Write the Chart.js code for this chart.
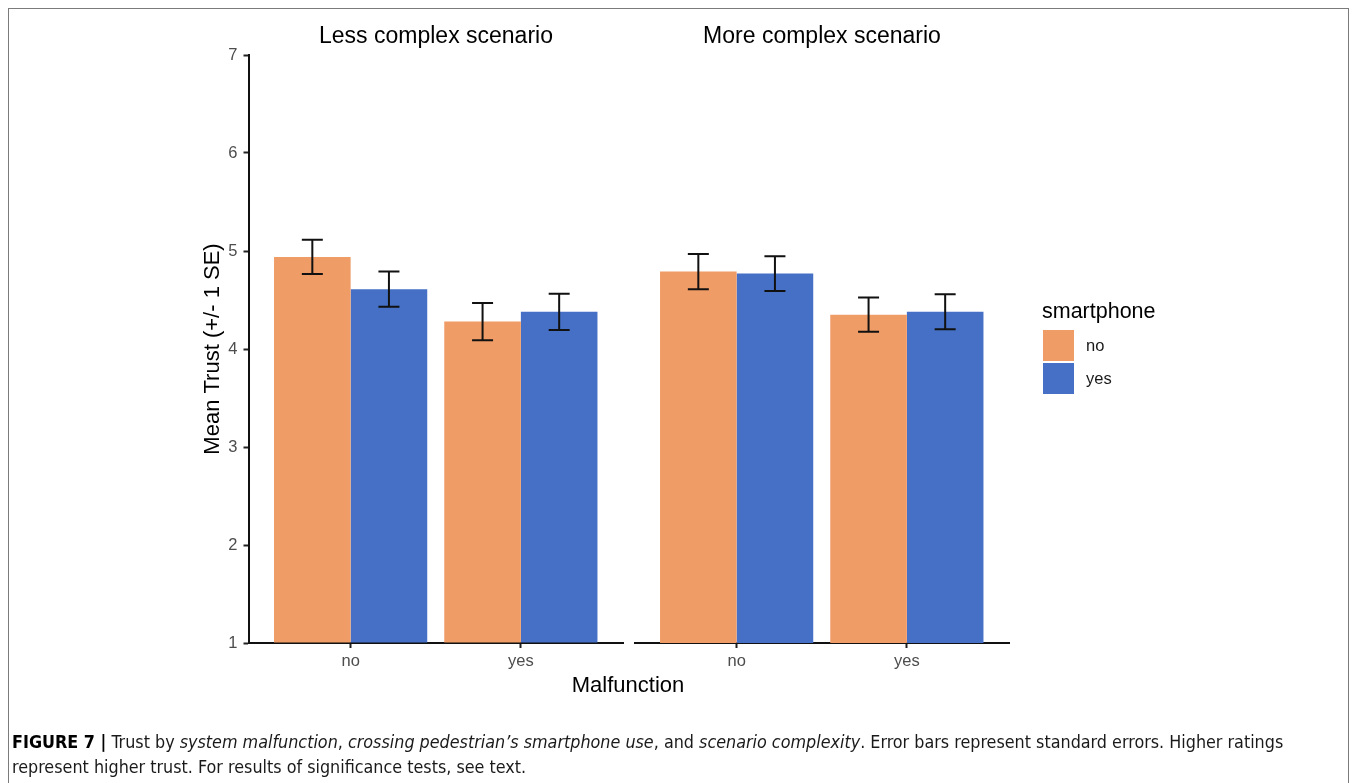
<!DOCTYPE html>
<html>
<head>
<meta charset="utf-8">
<script src="https://cdn.jsdelivr.net/npm/chart.js@4.4.1/dist/chart.umd.min.js"></script>
<style>
html,body{margin:0;padding:0;background:#fff;width:1354px;height:783px;overflow:hidden;font-family:"Liberation Sans",Arial,sans-serif;}
#frame{position:absolute;left:8px;top:8px;width:1341px;height:820px;border:1.5px solid #7b7b7b;box-sizing:border-box;}
canvas{position:absolute;left:0;top:0;}
.t{position:absolute;white-space:nowrap;color:#000;transform:translate(-50%,-50%);}
.facet{font-size:23px;top:35px;}
#xtitle{font-size:22px;left:628px;top:685px;}
#legend{position:absolute;left:1042px;top:298px;}
#legend .ttl{font-size:21.5px;line-height:26px;color:#000;margin-bottom:6px;}
#legend .item{position:relative;height:33px;}
#legend .sw{position:absolute;left:1px;top:0;width:31px;height:31px;}
#legend .lb{position:absolute;left:44px;top:0;line-height:31px;font-size:16.5px;color:#1a1a1a;}
#cap{position:absolute;left:12px;top:729px;font-family:"Liberation Sans Narrow","DejaVu Sans Condensed","Liberation Sans",sans-serif;font-size:17.8px;line-height:25px;color:#1a1a1a;white-space:nowrap;}
#cap b{color:#000;}
</style>
</head>
<body>
<div id="frame"></div>
<canvas id="c1" width="1354" height="783"></canvas>
<canvas id="c2" width="1354" height="783"></canvas>
<div class="t facet" id="f1" style="left:436px;"></div>
<div class="t facet" id="f2" style="left:822px;"></div>
<div class="t" id="xtitle"></div>
<div id="legend"></div>
<div id="cap"><b>FIGURE 7 |</b> Trust by <i>system malfunction</i>, <i>crossing pedestrian’s smartphone use</i>, and <i>scenario complexity</i>. Error bars represent standard errors. Higher ratings<br>represent higher trust. For results of significance tests, see text.</div>
<script>
// ---- data ----
const panels = ['Less complex scenario', 'More complex scenario'];
const malfunction = ['no', 'yes'];           // x categories
const smartphone = ['no', 'yes'];            // legend groups
const yTicks = [1, 2, 3, 4, 5, 6, 7];
// mean trust: [malfunction no, malfunction yes]
const lessNo = [4.94, 4.28];
const lessYes = [4.61, 4.38];
const moreNo = [4.79, 4.35];
const moreYes = [4.77, 4.38];
// standard errors
const lessNoSE = [0.175, 0.19];
const lessYesSE = [0.18, 0.185];
const moreNoSE = [0.18, 0.175];
const moreYesSE = [0.177, 0.178];
const xTitle = 'Malfunction';
const yTitle = 'Mean Trust (+/- 1 SE)';
const legendTitle = 'smartphone';

// ---- styles ----
const colors = ['#F09C67', '#4570C5'];
Chart.defaults.font.family = "'Liberation Sans', Arial, sans-serif";

const errorBars = {
  id: 'errorBars',
  afterDatasetsDraw(chart) {
    const ctx = chart.ctx;
    const ys = chart.scales.y;
    ctx.save();
    ctx.strokeStyle = '#111';
    ctx.lineWidth = 2;
    chart.data.datasets.forEach((ds, i) => {
      const meta = chart.getDatasetMeta(i);
      meta.data.forEach((el, j) => {
        const v = ds.data[j].y, se = ds.se[j];
        const x = el.x;
        const t = ys.getPixelForValue(v + se), b = ys.getPixelForValue(v - se);
        const hw = 10.5;
        ctx.beginPath();
        ctx.moveTo(x, t); ctx.lineTo(x, b);
        ctx.moveTo(x - hw, t); ctx.lineTo(x + hw, t);
        ctx.moveTo(x - hw, b); ctx.lineTo(x + hw, b);
        ctx.stroke();
      });
    });
    ctx.restore();
  }
};

function toXY(arr) { return arr.map((v, i) => ({ x: i + 1, y: v })); }

function makeChart(id, noVals, yesVals, noSE, yesSE, isLeft) {
  const padLeft = isLeft ? 199.8 : 634.5;
  const padRight = isLeft ? 1354 - 623 : 1354 - 1009;
  return new Chart(document.getElementById(id), {
    type: 'bar',
    data: {
      datasets: [
        { label: smartphone[0], data: toXY(noVals), se: noSE, backgroundColor: colors[0], base: 1, borderWidth: 0, categoryPercentage: 0.9, barPercentage: 1.0 },
        { label: smartphone[1], data: toXY(yesVals), se: yesSE, backgroundColor: colors[1], base: 1, borderWidth: 0, categoryPercentage: 0.9, barPercentage: 1.0 }
      ]
    },
    options: {
      responsive: false,
      animation: false,
      layout: { padding: { left: padLeft, right: padRight, top: 55, bottom: 110 } },
      plugins: { legend: { display: false }, tooltip: { enabled: false }, title: { display: false } },
      scales: {
        x: {
          type: 'linear',
          min: 0.4, max: 2.6,
          offset: false,
          afterBuildTicks: s => { s.ticks = malfunction.map((m, i) => ({ value: i + 1 })); },
          afterFit: s => { s.height = 30; },
          ticks: {
            callback: v => malfunction[Math.round(v) - 1],
            color: '#4d4d4d', font: { size: 16.5 }, padding: 4, maxRotation: 0, autoSkip: false
          },
          grid: { offset: false, drawOnChartArea: false, drawTicks: true, tickLength: 5, tickWidth: 2, tickColor: '#222', color: '#222' },
          border: { display: true, color: '#111', width: 2 }
        },
        y: {
          display: isLeft,
          min: 1, max: 7,
          afterBuildTicks: s => { s.ticks = yTicks.map(v => ({ value: v })); },
          afterFit: s => { s.width = isLeft ? 248.5 - 199.8 : 0; },
          ticks: { color: '#4d4d4d', font: { size: 16.5 }, padding: 6 },
          grid: { offset: false, drawOnChartArea: false, drawTicks: true, tickLength: 5, tickWidth: 2, tickColor: '#222', color: '#222' },
          border: { display: true, color: '#111', width: 2 },
          title: { display: true, text: yTitle, color: '#000', font: { size: 22 }, padding: { top: 0, bottom: 0 } }
        }
      }
    },
    plugins: [errorBars]
  });
}

makeChart('c1', lessNo, lessYes, lessNoSE, lessYesSE, true);
makeChart('c2', moreNo, moreYes, moreNoSE, moreYesSE, false);

document.getElementById('f1').textContent = panels[0];
document.getElementById('f2').textContent = panels[1];
document.getElementById('xtitle').textContent = xTitle;
const lg = document.getElementById('legend');
let html = '<div class="ttl">' + legendTitle + '</div>';
smartphone.forEach((s, i) => {
  html += '<div class="item"><div class="sw" style="background:' + colors[i] + '"></div><div class="lb">' + s + '</div></div>';
});
lg.innerHTML = html;
</script>
</body>
</html>
